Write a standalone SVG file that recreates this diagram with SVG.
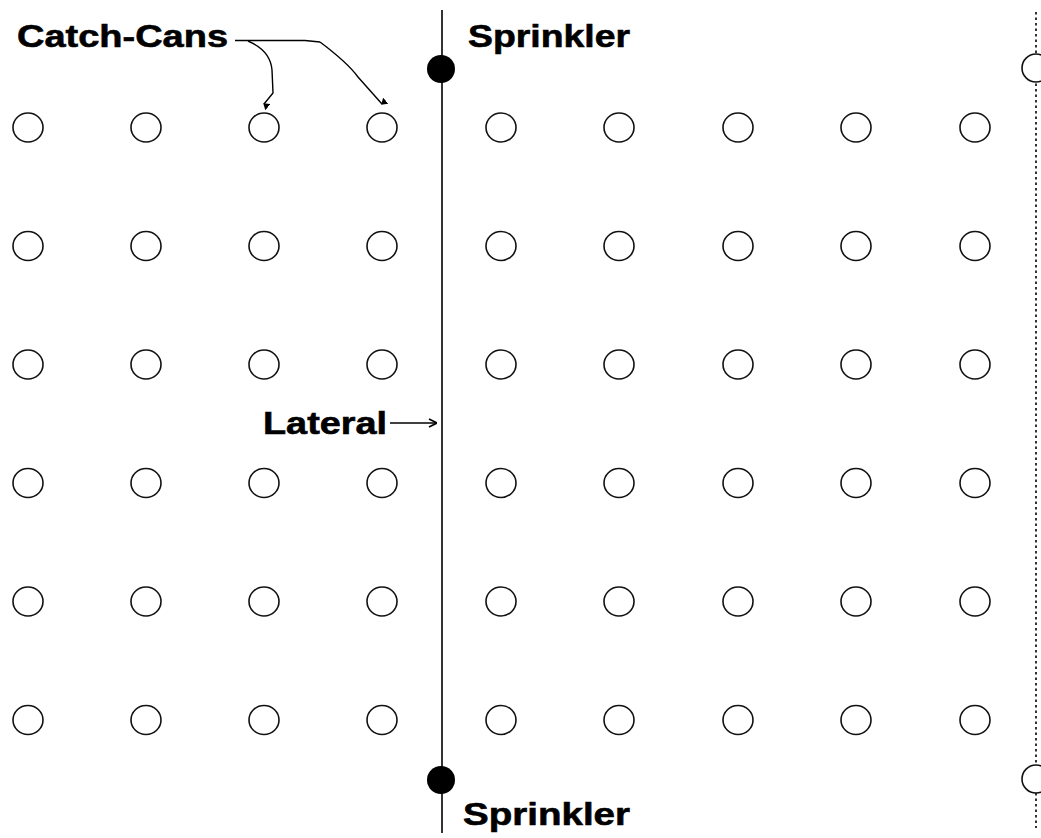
<svg xmlns="http://www.w3.org/2000/svg" width="1041" height="838" viewBox="0 0 1041 838">
<style>
.can{fill:none;stroke:#111;stroke-width:1.6}
.lbl{font-family:"Liberation Sans",Arial,sans-serif;font-weight:bold;font-size:32px;fill:#000;stroke:#000;stroke-width:0.6}
.wire{fill:none;stroke:#000;stroke-width:1.4}
</style>
<defs>
<marker id="tri" viewBox="0 0 8 6" refX="4" refY="5" markerWidth="8" markerHeight="6" markerUnits="userSpaceOnUse" orient="auto-start-reverse">
<path d="M0 0 L8 0 L4 6 Z" fill="#000"/>
</marker>
<marker id="open" viewBox="0 0 10 10" refX="10" refY="5" markerWidth="10" markerHeight="10" markerUnits="userSpaceOnUse" orient="auto">
<path d="M2 1 L10 5 L2 9" fill="none" stroke="#000" stroke-width="1.6"/>
</marker>
<ellipse id="c" rx="15" ry="14.5" class="can"/>
</defs>
<rect width="1041" height="838" fill="#fff"/>
<g id="cans">
<g id="row1">
<use href="#c" x="28" y="127.5"/><use href="#c" x="146" y="127.5"/><use href="#c" x="264" y="127.5"/><use href="#c" x="382" y="127.5"/><use href="#c" x="501" y="127.5"/><use href="#c" x="619" y="127.5"/><use href="#c" x="738" y="127.5"/><use href="#c" x="856" y="127.5"/><use href="#c" x="975" y="127.5"/>
</g>
<g id="row2">
<use href="#c" x="28" y="246"/><use href="#c" x="146" y="246"/><use href="#c" x="264" y="246"/><use href="#c" x="382" y="246"/><use href="#c" x="501" y="246"/><use href="#c" x="619" y="246"/><use href="#c" x="738" y="246"/><use href="#c" x="856" y="246"/><use href="#c" x="975" y="246"/>
</g>
<g id="row3">
<use href="#c" x="28" y="364.5"/><use href="#c" x="146" y="364.5"/><use href="#c" x="264" y="364.5"/><use href="#c" x="382" y="364.5"/><use href="#c" x="501" y="364.5"/><use href="#c" x="619" y="364.5"/><use href="#c" x="738" y="364.5"/><use href="#c" x="856" y="364.5"/><use href="#c" x="975" y="364.5"/>
</g>
<g id="row4">
<use href="#c" x="28" y="483"/><use href="#c" x="146" y="483"/><use href="#c" x="264" y="483"/><use href="#c" x="382" y="483"/><use href="#c" x="501" y="483"/><use href="#c" x="619" y="483"/><use href="#c" x="738" y="483"/><use href="#c" x="856" y="483"/><use href="#c" x="975" y="483"/>
</g>
<g id="row5">
<use href="#c" x="28" y="601.5"/><use href="#c" x="146" y="601.5"/><use href="#c" x="264" y="601.5"/><use href="#c" x="382" y="601.5"/><use href="#c" x="501" y="601.5"/><use href="#c" x="619" y="601.5"/><use href="#c" x="738" y="601.5"/><use href="#c" x="856" y="601.5"/><use href="#c" x="975" y="601.5"/>
</g>
<g id="row6">
<use href="#c" x="28" y="720"/><use href="#c" x="146" y="720"/><use href="#c" x="264" y="720"/><use href="#c" x="382" y="720"/><use href="#c" x="501" y="720"/><use href="#c" x="619" y="720"/><use href="#c" x="738" y="720"/><use href="#c" x="856" y="720"/><use href="#c" x="975" y="720"/>
</g>
</g>
<g id="connectors">
<line id="lateral-line" x1="442" y1="10" x2="442" y2="833" stroke="#000" stroke-width="1.6"/>
<line id="next-lateral" x1="1036" y1="12" x2="1036" y2="828" stroke="#000" stroke-width="1.6" stroke-dasharray="2.5,3"/>
<path class="wire" d="M235 40.5 L305 40.5 L320 42"/>
<path class="wire" d="M248 41 C262 47 271 57 272 70 L273 93 L264 104" marker-end="url(#tri)"/>
<path class="wire" d="M320 42 C336 54 350 66 358 77 L382 104" marker-end="url(#tri)"/>
<line class="wire" x1="390" y1="423" x2="437" y2="423" marker-end="url(#open)"/>
</g>
<g id="sprinkler-top"><circle cx="441" cy="69" r="14" fill="#000"/></g>
<g id="sprinkler-bottom"><circle cx="441" cy="780" r="14" fill="#000"/></g>
<g id="sprinkler-next-top"><circle cx="1036" cy="68" r="14" fill="#fff" stroke="#111" stroke-width="1.6"/></g>
<g id="sprinkler-next-bottom"><circle cx="1036" cy="779" r="14" fill="#fff" stroke="#111" stroke-width="1.6"/></g>
<g id="labels">
<text class="lbl" x="17" y="47" textLength="211" lengthAdjust="spacingAndGlyphs">Catch-Cans</text>
<text class="lbl" x="468" y="47" textLength="162" lengthAdjust="spacingAndGlyphs">Sprinkler</text>
<text class="lbl" x="263" y="434" textLength="124" lengthAdjust="spacingAndGlyphs">Lateral</text>
<text class="lbl" x="463" y="825" textLength="167" lengthAdjust="spacingAndGlyphs">Sprinkler</text>
</g>
</svg>
